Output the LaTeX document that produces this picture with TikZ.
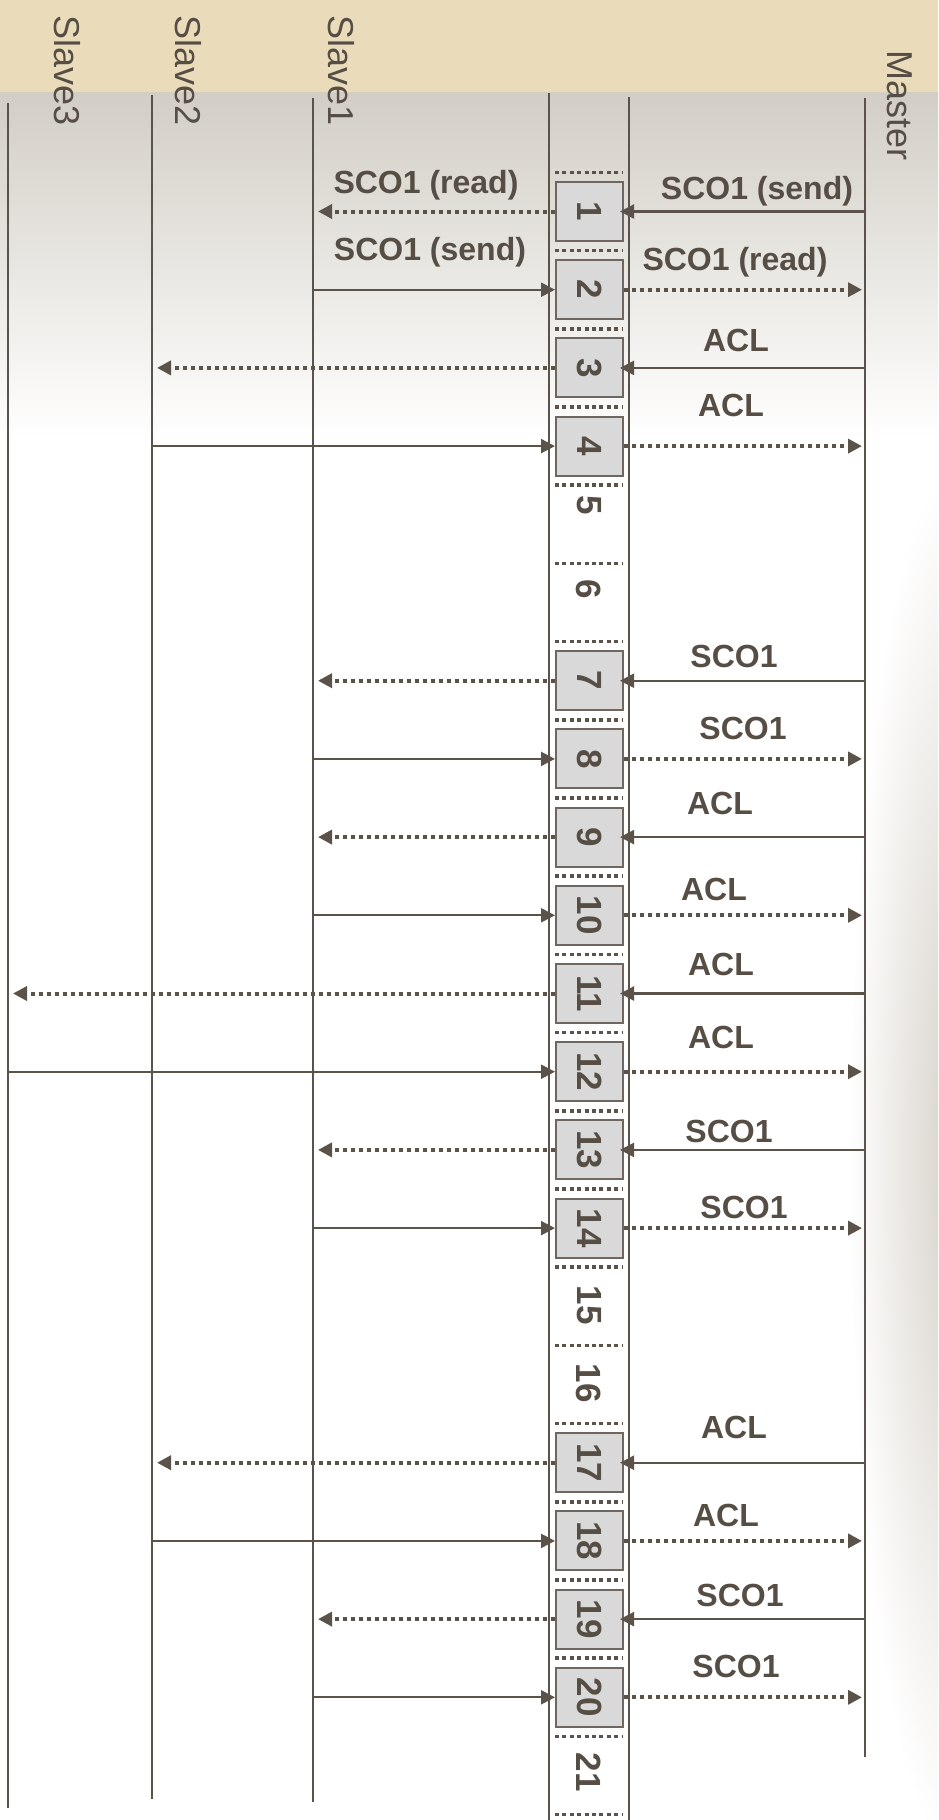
\documentclass[tikz,border=0pt]{standalone}
\usepackage{fontspec}
\setmainfont{Liberation Sans}
\usetikzlibrary{arrows.meta}
\definecolor{seqLine}{HTML}{5B5349}
\definecolor{seqText}{HTML}{564E45}
\definecolor{slotFill}{HTML}{D9D9D9}
\definecolor{slotEdge}{HTML}{6F675F}
\definecolor{paperTan}{HTML}{EADCBA}
\definecolor{bandGrey}{HTML}{D2CEC5}
\definecolor{shadowGrey}{HTML}{D4CFC6}

\begin{document}
\begin{tikzpicture}[
    x=0.5pt, y=-0.5pt,
    lifeline/.style = {draw=seqLine, line width=1.4pt},
    who/.style      = {font=\fontsize{18}{21}\selectfont, text=seqText, rotate=-90, anchor=west, inner sep=0pt},
    slotbox/.style  = {draw=slotEdge, line width=1pt, fill=slotFill, minimum width=33.5pt, minimum height=29.5pt, inner sep=0pt},
    slotnum/.style  = {font=\bfseries\fontsize{17.5}{20}\selectfont, text=seqText, rotate=-90, inner sep=0pt},
    slotsep/.style  = {draw=seqLine, line width=1.8pt, dash pattern=on 2pt off 1.7pt},
    msg/.style      = {draw=seqLine, line width=1.1pt, -{Triangle[length=7pt,width=7pt]}},
    msgdot/.style   = {draw=seqLine, line width=2pt, dash pattern=on 2.2pt off 1.8pt, -{Triangle[length=7pt,width=7pt]}},
    msglbl/.style   = {font=\bfseries\fontsize{16}{19}\selectfont, text=seqText, anchor=base, inner sep=0pt}
  ]
  \useasboundingbox (0,0) rectangle (938,1820);
  \fill[white] (0,0) rectangle (938,1820);
  % soft shadow at the right edge
  \begin{scope}
    \clip (0,92) rectangle (938,1820);
    \shade[inner color=shadowGrey, outer color=white] (848,460) rectangle (1072,1860);
  \end{scope}
  \fill[paperTan] (0,0) rectangle (938,92);
  \shade[top color=bandGrey, bottom color=white] (0,92) rectangle (938,440);

  % lifelines and the slot column
  \coordinate (s3t) at (8,103);   \coordinate (s3b) at (8,1808);
  \coordinate (s2t) at (152,95);  \coordinate (s2b) at (152,1799);
  \coordinate (s1t) at (313,98);  \coordinate (s1b) at (313,1802);
  \coordinate (clt) at (549,93);  \coordinate (clb) at (549,1820);
  \coordinate (crt) at (629,97);  \coordinate (crb) at (629,1820);
  \coordinate (mt)  at (865,98);  \coordinate (mb)  at (865,1757);
  \draw[lifeline] (s3t) -- (s3b);
  \draw[lifeline] (s2t) -- (s2b);
  \draw[lifeline] (s1t) -- (s1b);
  \draw[lifeline] (clt) -- (clb);
  \draw[lifeline] (crt) -- (crb);
  \draw[lifeline] (mt) -- (mb);

  \node[who] (slave3) at (67,15) {Slave3};
  \node[who] (slave2) at (188,15) {Slave2};
  \node[who] (slave1) at (341,15) {Slave1};
  \node[who] (master) at (900,50) {Master};

  % slots
  \foreach \j in {0,...,21}{
    \pgfmathsetmacro\yy{172.4+78.2*\j}
    \draw[slotsep] (555,\yy) -- (622,\yy);
  }
  \foreach \k in {1,2,3,4,7,8,9,10,11,12,13,14,17,18,19,20}{
    \pgfmathsetmacro\yy{211.5+78.2*(\k-1)}
    \node[slotbox] (b\k) at (589.5,\yy) {};
    \node[slotnum] (n\k) at (b\k) {\k};
  }
  \node[slotnum] (n5)  at (589,505)  {5};
  \node[slotnum] (n6)  at (589,589)  {6};
  \node[slotnum] (n15) at (589,1305) {15};
  \node[slotnum] (n16) at (589,1383) {16};
  \node[slotnum] (n21) at (589,1772) {21};

  % master -> slot -> slave
  \foreach \k/\src in {1/s1,3/s2,7/s1,9/s1,11/s3,13/s1,17/s2,19/s1}{
    \draw[msg, shorten >=-2pt] (b\k.east -| mt) -- (b\k.east);
    \draw[msgdot, shorten >=2.5pt] (b\k.west) -- (b\k.west -| \src t);
  }
  % slave -> slot -> master
  \foreach \k/\src in {2/s1,4/s2,8/s1,10/s1,12/s3,14/s1,18/s2,20/s1}{
    \draw[msg] (b\k.west -| \src t) -- (b\k.west);
    \draw[msgdot, shorten >=1.5pt] (b\k.east) -- (b\k.east -| mt);
  }

  \node[msglbl] (t1a) at (426,193)  {SCO1 (read)};
  \node[msglbl] (t1b) at (757,199)  {SCO1 (send)};
  \node[msglbl] (t2a) at (430,260)  {SCO1 (send)};
  \node[msglbl] (t2b) at (735,270)  {SCO1 (read)};
  \node[msglbl] (t3)  at (736,351)  {ACL};
  \node[msglbl] (t4)  at (731,416)  {ACL};
  \node[msglbl] (t7)  at (734,667)  {SCO1};
  \node[msglbl] (t8)  at (743,739)  {SCO1};
  \node[msglbl] (t9)  at (720,814)  {ACL};
  \node[msglbl] (t10) at (714,900)  {ACL};
  \node[msglbl] (t11) at (721,975)  {ACL};
  \node[msglbl] (t12) at (721,1048) {ACL};
  \node[msglbl] (t13) at (729,1142) {SCO1};
  \node[msglbl] (t14) at (744,1218) {SCO1};
  \node[msglbl] (t17) at (734,1438) {ACL};
  \node[msglbl] (t18) at (726,1526) {ACL};
  \node[msglbl] (t19) at (740,1606) {SCO1};
  \node[msglbl] (t20) at (736,1677) {SCO1};
\end{tikzpicture}
\end{document}
